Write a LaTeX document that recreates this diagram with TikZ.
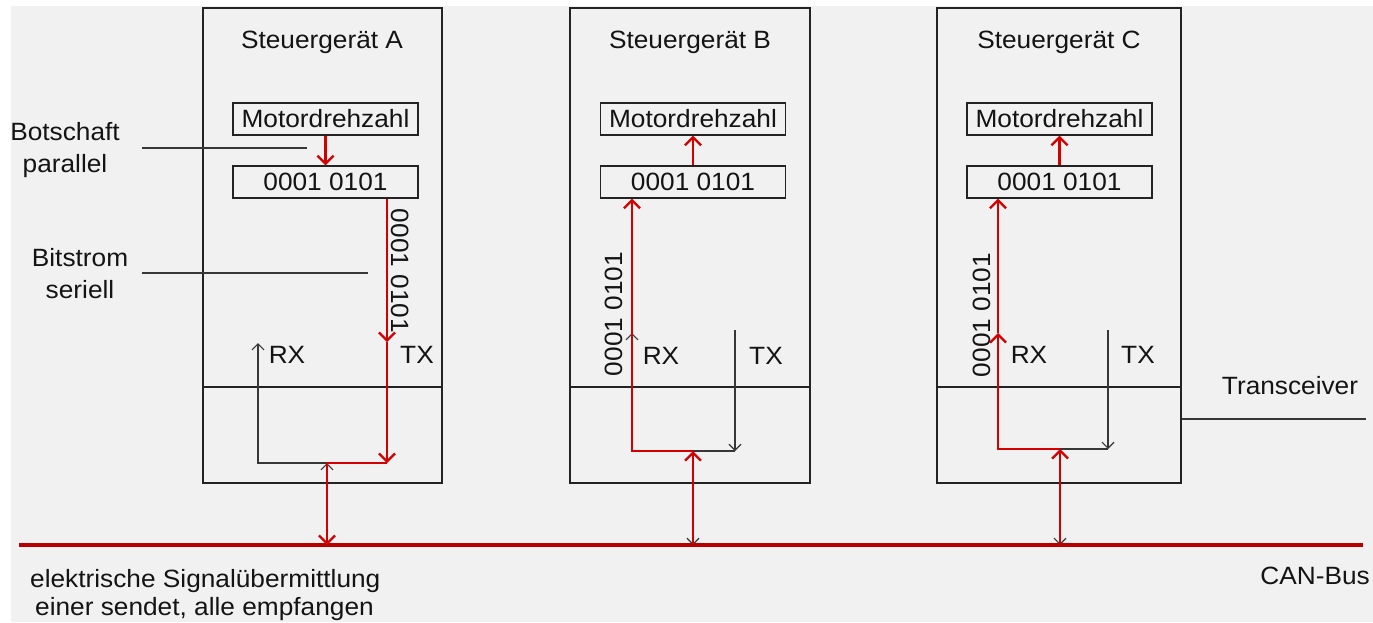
\documentclass[tikz,border=0pt]{standalone}
\usepackage{fontspec}
\setmainfont{Liberation Sans}[FakeStretch=1.05]
\usetikzlibrary{arrows.meta}
\definecolor{bg}{RGB}{241,241,241}
\definecolor{sigred}{RGB}{212,0,0}
\definecolor{busred}{RGB}{185,0,0}
\definecolor{ink}{RGB}{35,35,35}
\definecolor{textc}{RGB}{20,20,20}
\definecolor{wirec}{RGB}{55,55,55}
\begin{document}
\begin{tikzpicture}[x=1pt,y=-1pt,
  every node/.style={font=\fontsize{25}{32}\selectfont, text=textc, inner sep=0pt},
  ecu/.style={draw=ink, line width=1.4pt, minimum height=475pt},
  field/.style={draw=ink, line width=1.4pt, minimum width=185pt, minimum height=32pt},
  frame/.style={draw=ink, line width=1.4pt},
  sig/.style={draw=sigred, line width=2.3pt},
  wire/.style={draw=wirec, line width=1.3pt},
  bus/.style={draw=busred, line width=3.2pt},
  tip/.tip={Straight Barb[length=8pt,width=16pt,line width=2.3pt]},
  gtip/.tip={Straight Barb[length=6pt,width=12pt,line width=1.2pt]}
]
\useasboundingbox (0,0) rectangle (1373,622);
\fill[white] (0,0) rectangle (1373,622);
\fill[bg] (11,6) rectangle (1373,622);

% control units
\node[ecu, minimum width=239pt] (A) at (322.5,245.5) {};
\node[ecu, minimum width=240pt] (B) at (690,245.5) {};
\node[ecu, minimum width=244pt] (C) at (1059,245.5) {};
\coordinate (divY) at (0,387);
\draw[frame] (A.west |- divY) -- (A.east |- divY);
\draw[frame] (B.west |- divY) -- (B.east |- divY);
\draw[frame] (C.west |- divY) -- (C.east |- divY);

\node[anchor=base] (tA) at (322,48) {Steuergerät A};
\node[anchor=base] (tB) at (690,48) {Steuergerät B};
\node[anchor=base] (tC) at (1059,48) {Steuergerät C};

\node[field] (mA) at (325.5,119) {Motordrehzahl};
\node[field] (bA) at (325.5,182) {0001 0101};
\node[field] (mB) at (693,119) {Motordrehzahl};
\node[field] (bB) at (693,182) {0001 0101};
\node[field] (mC) at (1059.5,119) {Motordrehzahl};
\node[field] (bC) at (1059.5,182) {0001 0101};

\node[rotate=-90] (lA) at (400,271) {0001 0101};
\node[rotate=90] (lB) at (614,314) {0001 0101};
\node[rotate=90] (lC) at (982,315) {0001 0101};

\node (rxlA) at (287,355) {RX};
\node (txlA) at (417,355) {TX};
\node (rxlB) at (661,356) {RX};
\node (txlB) at (766,356) {TX};
\node (rxlC) at (1029,355) {RX};
\node (txlC) at (1138,355) {TX};

% bus
\coordinate (busL) at (19,545);
\coordinate (busR) at (1363,545);
\draw[bus] (busL) -- (busR);

% --- unit A (sender)
\coordinate (txA) at (387,342);
\coordinate (cA) at (387,463);
\coordinate (jA) at (327,463);
\coordinate (rcA) at (258,463);
\coordinate (rxA) at (258,343);
\coordinate (bsA) at (327,545);
\draw[sig, -tip] (mA.south) -- (bA.north);
\draw[sig, -tip] (bA.south -| txA) -- (txA);
\draw[sig, -tip] (txA) -- (cA);
\draw[sig] (cA) -- (jA);
\draw[wire, -gtip] (jA) -- (rcA) -- (rxA);
\draw[wire, -gtip] (bsA) -- (jA);
\draw[sig, -tip] (jA) -- (bsA);

% --- unit B (receiver)
\coordinate (jB) at (693,451);
\coordinate (bsB) at (693,545);
\coordinate (cB) at (632,451);
\coordinate (rxB) at (632,333);
\coordinate (txtB) at (735,330);
\coordinate (txbB) at (735,451);
\draw[wire, -gtip] (jB) -- (cB) -- (rxB);
\draw[wire, -gtip] (txtB) -- (txbB);
\draw[wire] (txbB) -- (jB);
\draw[wire, -gtip] (jB) -- (bsB);
\draw[sig, -tip] (bsB) -- (jB);
\draw[sig, -tip] (jB) -- (cB) -- (bB.south -| cB);
\draw[sig, -tip] (bB.north) -- (mB.south);

% --- unit C (receiver)
\coordinate (jC) at (1060,449);
\coordinate (bsC) at (1060,545);
\coordinate (cC) at (998,449);
\coordinate (rxC) at (998,333);
\coordinate (txtC) at (1108,330);
\coordinate (txbC) at (1108,449);
\draw[wire, -gtip] (txtC) -- (txbC);
\draw[wire] (txbC) -- (jC);
\draw[wire, -gtip] (jC) -- (bsC);
\draw[sig, -tip] (bsC) -- (jC);
\draw[sig, -tip] (jC) -- (cC) -- (rxC);
\draw[sig, -tip] (rxC) -- (bC.south -| rxC);
\draw[sig, -tip] (bC.north -| mC) -- (mC.south);

% annotations
\node[align=center, anchor=north] (botsch) at (65,122) {Botschaft\\parallel};
\node[align=center, anchor=north] (bitstr) at (80,248) {Bitstrom\\seriell};
\coordinate (bsL) at (142,148);
\coordinate (bsR) at (307,148);
\coordinate (bitL) at (142,273);
\coordinate (bitR) at (368,273);
\draw[wire] (bsL) -- (bsR);
\draw[wire] (bitL) -- (bitR);

\node (trans) at (1290,386) {Transceiver};
\coordinate (trY) at (0,419);
\coordinate (trR) at (1366,419);
\draw[wire] (C.east |- trY) -- (trR);

\node[align=left, anchor=north west, font=\fontsize{25}{28}\selectfont] (elek) at (30,569) {elektrische Signalübermittlung\\\hspace{5pt}einer sendet, alle empfangen};
\node[anchor=base east] (can) at (1370,584) {CAN-Bus};
\end{tikzpicture}
\end{document}
